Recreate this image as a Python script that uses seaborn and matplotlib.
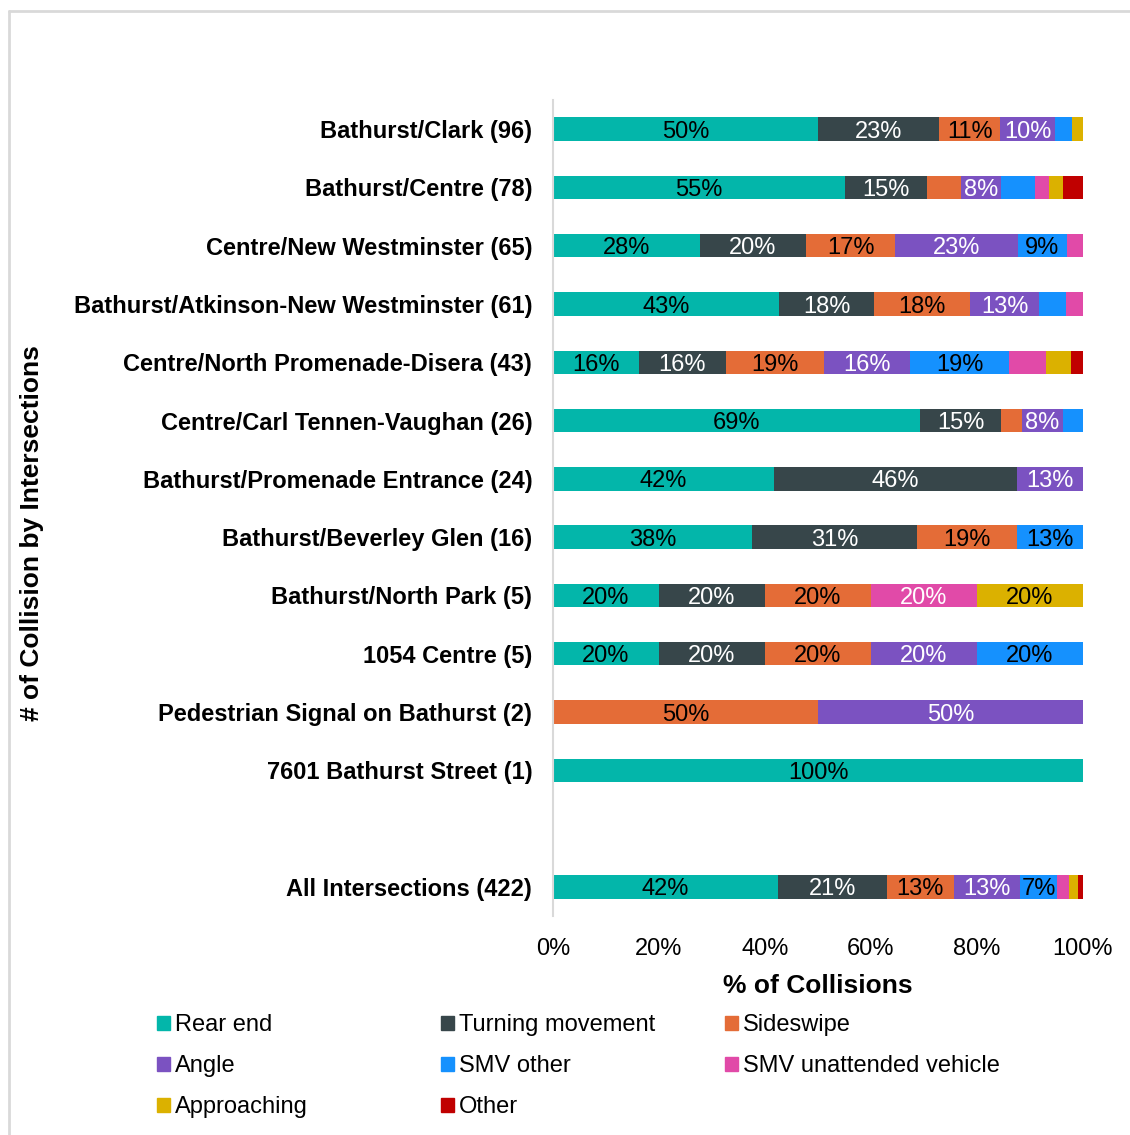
import matplotlib
matplotlib.use("Agg")
import matplotlib.pyplot as plt
import matplotlib.patches as mpatches
import matplotlib.lines as mlines
import numpy as np
import pandas as pd
import seaborn as sns

sns.set_style("white")
plt.rcParams['font.family'] = ['Liberation Sans', 'DejaVu Sans']
plt.rcParams['text.color'] = 'black'
plt.rcParams['axes.labelcolor'] = 'black'
plt.rcParams['xtick.color'] = 'black'
plt.rcParams['ytick.color'] = 'black'

intersections = [
    "Bathurst/Clark (96)",
    "Bathurst/Centre (78)",
    "Centre/New Westminster (65)",
    "Bathurst/Atkinson-New Westminster (61)",
    "Centre/North Promenade-Disera (43)",
    "Centre/Carl Tennen-Vaughan (26)",
    "Bathurst/Promenade Entrance (24)",
    "Bathurst/Beverley Glen (16)",
    "Bathurst/North Park (5)",
    "1054 Centre (5)",
    "Pedestrian Signal on Bathurst (2)",
    "7601 Bathurst Street (1)",
    "All Intersections (422)",
]

categories = ["Rear end", "Turning movement", "Sideswipe", "Angle", "SMV other",
              "SMV unattended vehicle", "Approaching", "Other"]
colors = ["#03B6AA", "#37464A", "#E46C37", "#7B52C1", "#1591FE", "#E14AA8", "#DBB100", "#C00000"]
label_colors = ["black", "white", "black", "white", "black", "white", "black", "white"]

# percentage of collisions per intersection (one list per collision type)
rear_end    = [50.00, 55.13, 27.69, 42.62, 16.28, 69.23, 41.67, 37.50, 20, 20, 0, 100, 42.42]
turning     = [22.92, 15.38, 20.00, 18.03, 16.28, 15.38, 45.83, 31.25, 20, 20, 0, 0, 20.62]
sideswipe   = [11.46, 6.41, 16.92, 18.03, 18.60, 3.85, 0, 18.75, 20, 20, 50, 0, 12.56]
angle       = [10.42, 7.69, 23.08, 13.11, 16.28, 7.69, 12.50, 0, 0, 20, 50, 0, 12.56]
smv_other   = [3.13, 6.41, 9.23, 4.92, 18.60, 3.85, 0, 12.50, 0, 20, 0, 0, 6.87]
smv_unatt   = [0, 2.56, 3.08, 3.28, 6.98, 0, 0, 0, 20, 0, 0, 0, 2.37]
approaching = [2.08, 2.56, 0, 0, 4.65, 0, 0, 0, 20, 0, 0, 0, 1.66]
other       = [0, 3.85, 0, 0, 2.33, 0, 0, 0, 0, 0, 0, 0, 0.95]

series = [rear_end, turning, sideswipe, angle, smv_other, smv_unatt, approaching, other]

order = intersections[:12] + [" "] + intersections[12:]

vals = np.array(series)  # (8, 13)
cum = np.cumsum(vals, axis=0)

fig = plt.figure(figsize=(11.3, 11.35), dpi=100)
ax = fig.add_axes([553/1130, 1 - 916/1135, 530/1130, 816/1135])

# draw cumulative bars from the last category backwards so each shows as a segment
for k in range(len(categories) - 1, -1, -1):
    df = pd.DataFrame({"intersection": intersections, "value": cum[k]})
    sns.barplot(data=df, x="value", y="intersection", order=order, color=colors[k],
                saturation=1, width=0.4, errorbar=None, linewidth=0, ax=ax)

# segment labels
for k in range(len(categories)):
    for i, name in enumerate(intersections):
        p = vals[k, i]
        show = p >= 7.5 or (name.startswith("All") and p >= 6.5)
        if p > 0 and show:
            ax.text(cum[k, i] - p / 2, order.index(name), f"{int(p + 0.5):d}%",
                    ha="center", va="center_baseline", fontsize=17, color=label_colors[k])

ax.set_xlim(0, 100)
ax.set_ylim(len(order) - 0.5, -0.5)
ax.set_xticks(np.arange(0, 101, 20))
ax.set_xticklabels([f"{t}%" for t in range(0, 101, 20)], fontsize=17)
ax.set_yticks(range(len(order)))
ax.set_yticklabels(order, fontsize=17, fontweight="bold")
ax.tick_params(axis="both", length=0, colors="black")
ax.tick_params(axis="y", pad=15)
ax.tick_params(axis="x", pad=16)
for s in ["top", "right", "bottom"]:
    ax.spines[s].set_visible(False)
ax.spines["left"].set_color("#D9D9D9")
ax.spines["left"].set_linewidth(1.5)
ax.set_xlabel("% of Collisions", fontsize=19, fontweight="bold", labelpad=10, color="black")
ax.set_ylabel("")
fig.text(32/1130, 1 - 533/1135, "# of Collision by Intersections", rotation=90,
         fontsize=19, fontweight="bold", ha="center", va="center", color="black")

# legend: three columns placed individually
cols = [[0, 3, 6], [1, 4, 7], [2, 5]]
col_x = [148, 432, 716]
for cx, idxs in zip(col_x, cols):
    handles = [mpatches.Patch(color=colors[i], label=categories[i]) for i in idxs]
    leg = fig.legend(handles=handles, loc="upper left",
                     bbox_to_anchor=(cx / 1130, 1 - 1005 / 1135),
                     frameon=False, fontsize=17, handlelength=0.55, handleheight=0.55,
                     handletextpad=0.2, labelspacing=0.8, borderaxespad=0)
    for t in leg.get_texts():
        t.set_color("black")

# chart border (left and top visible)
fig.add_artist(mlines.Line2D([9/1130, 9/1130], [0, 1 - 11/1135], color="#D9D9D9", lw=2,
                             transform=fig.transFigure))
fig.add_artist(mlines.Line2D([9/1130, 1], [1 - 11/1135, 1 - 11/1135], color="#D9D9D9", lw=2,
                             transform=fig.transFigure))

fig.savefig("out.png", dpi=100, facecolor="white")
